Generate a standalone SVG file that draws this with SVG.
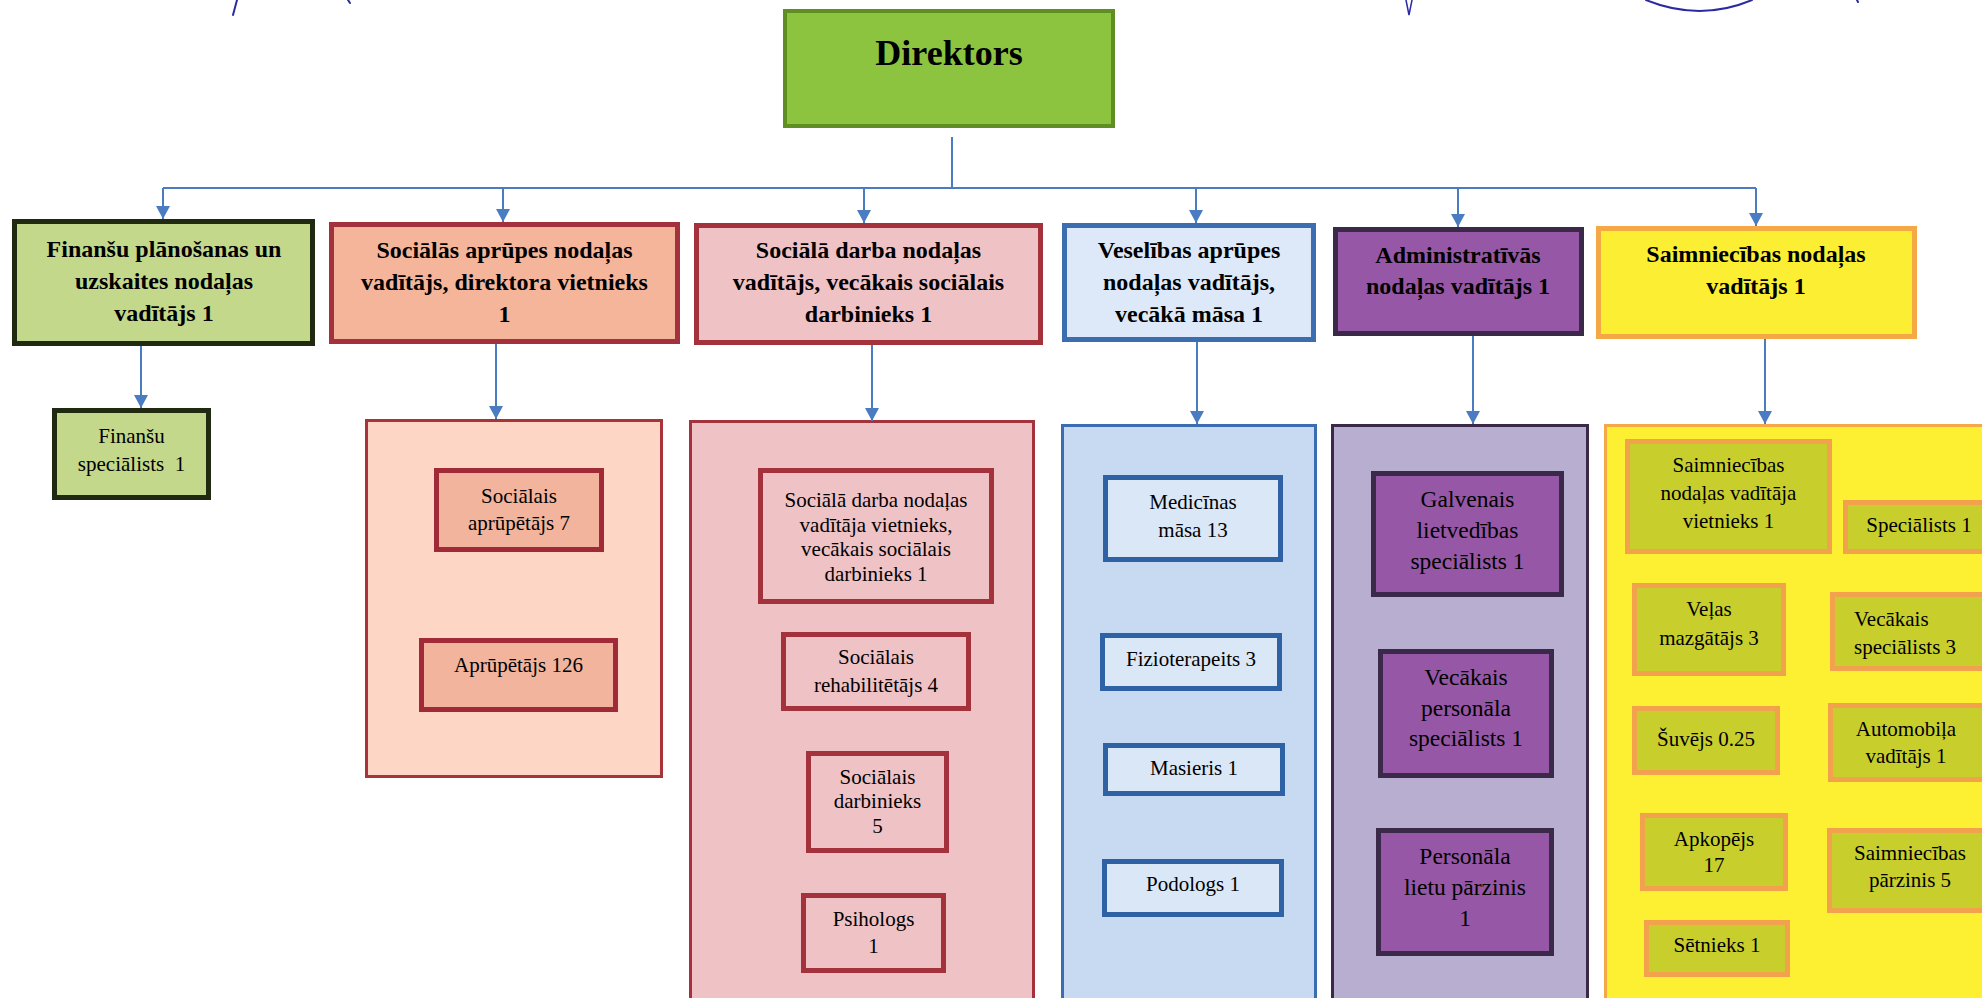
<svg xmlns="http://www.w3.org/2000/svg" width="1982" height="998" viewBox="0 0 1982 998">
<defs>
<marker id="arr" viewBox="0 -7 13 14" refX="13" refY="0" markerWidth="13" markerHeight="14" markerUnits="userSpaceOnUse" orient="auto">
<path d="M0,-7 L13,0 L0,7 z" fill="#4a7cc2"/>
</marker>
<style>
text{font-family:"Liberation Serif","Times New Roman",serif;fill:#000;text-anchor:middle}
.h{font-weight:bold;font-size:24px}
.s{font-size:21px}
.a{font-size:23.5px}
.conn{stroke:#4a7cc2;stroke-width:2;fill:none}
.arw{marker-end:url(#arr)}
.b5{stroke-width:5}
.b3{stroke-width:3}
.fin{fill:#c4d88b;stroke:#1f2a10}
.soc{fill:#f5b59b;stroke:#a3323c}
.socc{fill:#fdd6c6;stroke:#a8343a}
.socs{fill:#f2b49c;stroke:#a02a38}
.dar{fill:#efc2c5;stroke:#a3323c}
.vel{fill:#dde9f8;stroke:#3b6db0}
.velc{fill:#c7daf2;stroke:#3b6db0}
.vels{fill:#dae7f7;stroke:#2f62a4}
.adm{fill:#9658a6;stroke:#3a2948}
.admc{fill:#b8aecf;stroke:#3a2948}
.sai{fill:#fcee33;stroke:#f4a946}
.saic{fill:#fdf033;stroke:#f4a946}
.sais{fill:#c8cf2d;stroke:#f2a24c}
.pen{stroke:#2b2aa0;stroke-width:2;fill:none;stroke-linecap:round}
</style>
</defs>
<rect width="1982" height="998" fill="#ffffff"/>

<g id="scribbles">
<path class="pen" d="M237,0 L233,15"/>
<path class="pen" d="M348,0 L350,3"/>
<path class="pen" style="stroke-width:1.5" d="M1406,0 L1409,15 L1412,0"/>
<path class="pen" d="M1646,0 Q1700,22 1752,0"/>
<path class="pen" d="M1857,0 L1858,2"/>
</g>

<g id="containers">
<rect id="c-soc" class="socc b3" x="366.5" y="420.5" width="295" height="356"/>
<rect id="c-dar" class="dar b3" x="690.5" y="421.5" width="343" height="600"/>
<rect id="c-vel" class="velc b3" x="1062.5" y="425.5" width="253" height="600"/>
<rect id="c-adm" class="admc b3" x="1332.5" y="425.5" width="255" height="600"/>
<rect id="c-sai" class="saic b3" x="1605.5" y="425.5" width="400" height="600"/>
</g>

<g id="connectors">
<path class="conn" d="M952,137 V188"/>
<path class="conn" d="M163,188 H1756"/>
<path class="conn arw" d="M163,188 V219"/>
<path class="conn arw" d="M503,188 V222"/>
<path class="conn arw" d="M864,188 V223"/>
<path class="conn arw" d="M1196,188 V223"/>
<path class="conn arw" d="M1458,188 V227"/>
<path class="conn arw" d="M1756,188 V226"/>
<path class="conn arw" d="M141,346 V408"/>
<path class="conn arw" d="M496,344 V419"/>
<path class="conn arw" d="M872,345 V421"/>
<path class="conn arw" d="M1197,342 V424"/>
<path class="conn arw" d="M1473,336 V424"/>
<path class="conn arw" d="M1765,339 V424"/>
</g>

<g id="direktors">
<rect x="785" y="11" width="328" height="115" fill="#8cc43f" stroke="#5f8f22" stroke-width="4"/>
<text x="949" y="65" style="font-weight:bold;font-size:36px">Direktors</text>
</g>

<g id="finansu-vad">
<rect class="fin b5" x="14.5" y="221.5" width="298" height="122"/>
<text class="h" x="164"><tspan x="164" y="257">Finanšu plānošanas un</tspan><tspan x="164" y="289">uzskaites nodaļas</tspan><tspan x="164" y="321">vadītājs 1</tspan></text>
</g>
<g id="soc-aprupes-vad">
<rect class="soc b5" x="331.5" y="224.5" width="346" height="117"/>
<text class="h" x="504.5"><tspan x="504.5" y="258">Sociālās aprūpes nodaļas</tspan><tspan x="504.5" y="290">vadītājs, direktora vietnieks</tspan><tspan x="504.5" y="322">1</tspan></text>
</g>
<g id="soc-darba-vad">
<rect class="dar b5" x="696.5" y="225.5" width="344" height="117"/>
<text class="h" x="868.5"><tspan x="868.5" y="258">Sociālā darba nodaļas</tspan><tspan x="868.5" y="290">vadītājs, vecākais sociālais</tspan><tspan x="868.5" y="322">darbinieks 1</tspan></text>
</g>
<g id="veselibas-vad">
<rect class="vel b5" x="1064.5" y="225.5" width="249" height="114"/>
<text class="h" x="1189"><tspan x="1189" y="258">Veselības aprūpes</tspan><tspan x="1189" y="290">nodaļas vadītājs,</tspan><tspan x="1189" y="322">vecākā māsa 1</tspan></text>
</g>
<g id="admin-vad">
<rect class="adm b5" x="1335.5" y="229.5" width="246" height="104"/>
<text class="h" x="1458"><tspan x="1458" y="263">Administratīvās</tspan><tspan x="1458" y="294">nodaļas vadītājs 1</tspan></text>
</g>
<g id="saimn-vad">
<rect class="sai b5" x="1598.5" y="228.5" width="316" height="108"/>
<text class="h" x="1756"><tspan x="1756" y="262">Saimniecības nodaļas</tspan><tspan x="1756" y="294">vadītājs 1</tspan></text>
</g>

<g id="finansu-spec">
<rect class="fin b5" x="54.5" y="410.5" width="154" height="87"/>
<text class="s" x="131.5" xml:space="preserve"><tspan x="131.5" y="443">Finanšu</tspan><tspan x="131.5" y="471">speciālists  1</tspan></text>
</g>

<g id="soc-aprupetajs">
<rect class="socs b5" x="436.5" y="470.5" width="165" height="79"/>
<text class="s"><tspan x="519" y="503">Sociālais</tspan><tspan x="519" y="530">aprūpētājs 7</tspan></text>
</g>
<g id="aprupetajs">
<rect class="socs b5" x="421.5" y="640.5" width="194" height="69"/>
<text class="s" x="518.5" y="672">Aprūpētājs 126</text>
</g>

<g id="soc-darba-vietn">
<rect class="dar b5" x="760.5" y="470.5" width="231" height="131"/>
<text class="s"><tspan x="876" y="507">Sociālā darba nodaļas</tspan><tspan x="876" y="532">vadītāja vietnieks,</tspan><tspan x="876" y="556">vecākais sociālais</tspan><tspan x="876" y="581">darbinieks 1</tspan></text>
</g>
<g id="soc-rehab">
<rect class="dar b5" x="783.5" y="634.5" width="185" height="74"/>
<text class="s"><tspan x="876" y="664">Sociālais</tspan><tspan x="876" y="692">rehabilitētājs 4</tspan></text>
</g>
<g id="soc-darbinieks">
<rect class="dar b5" x="808.5" y="753.5" width="138" height="97"/>
<text class="s"><tspan x="877.5" y="784">Sociālais</tspan><tspan x="877.5" y="808">darbinieks</tspan><tspan x="877.5" y="833">5</tspan></text>
</g>
<g id="psihologs">
<rect class="dar b5" x="803.5" y="895.5" width="140" height="75"/>
<text class="s"><tspan x="873.5" y="926">Psihologs</tspan><tspan x="873.5" y="953">1</tspan></text>
</g>

<g id="med-masa">
<rect class="vels b5" x="1105.5" y="477.5" width="175" height="82"/>
<text class="s"><tspan x="1193" y="509">Medicīnas</tspan><tspan x="1193" y="537">māsa 13</tspan></text>
</g>
<g id="fizioterapeits">
<rect class="vels b5" x="1102.5" y="635.5" width="177" height="53"/>
<text class="s" x="1191" y="666">Fizioterapeits 3</text>
</g>
<g id="masieris">
<rect class="vels b5" x="1105.5" y="745.5" width="177" height="48"/>
<text class="s" x="1194" y="775">Masieris 1</text>
</g>
<g id="podologs">
<rect class="vels b5" x="1104.5" y="861.5" width="177" height="53"/>
<text class="s" x="1193" y="891">Podologs 1</text>
</g>

<g id="galv-lietv">
<rect class="adm b5" x="1373.5" y="473.5" width="188" height="121"/>
<text class="a"><tspan x="1467.5" y="507">Galvenais</tspan><tspan x="1467.5" y="538">lietvedības</tspan><tspan x="1467.5" y="569">speciālists 1</tspan></text>
</g>
<g id="vec-pers">
<rect class="adm b5" x="1380.5" y="651.5" width="171" height="124"/>
<text class="a"><tspan x="1466" y="685">Vecākais</tspan><tspan x="1466" y="716">personāla</tspan><tspan x="1466" y="746">speciālists 1</tspan></text>
</g>
<g id="pers-lietu">
<rect class="adm b5" x="1378.5" y="830.5" width="173" height="123"/>
<text class="a"><tspan x="1465" y="864">Personāla</tspan><tspan x="1465" y="895">lietu pārzinis</tspan><tspan x="1465" y="926">1</tspan></text>
</g>

<g id="saimn-vietn">
<rect class="sais b5" x="1627.5" y="441.5" width="202" height="110"/>
<text class="s"><tspan x="1728.5" y="472">Saimniecības</tspan><tspan x="1728.5" y="500">nodaļas vadītāja</tspan><tspan x="1728.5" y="528">vietnieks 1</tspan></text>
</g>
<g id="specialists">
<rect class="sais b5" x="1845.5" y="502.5" width="150" height="49"/>
<text class="s" x="1919" y="532">Speciālists 1</text>
</g>
<g id="velas">
<rect class="sais b5" x="1634.5" y="585.5" width="149" height="88"/>
<text class="s"><tspan x="1709" y="616">Veļas</tspan><tspan x="1709" y="645">mazgātājs 3</tspan></text>
</g>
<g id="vec-spec">
<rect class="sais b5" x="1832.5" y="594.5" width="170" height="74"/>
<text class="s" style="text-anchor:start"><tspan x="1854" y="626">Vecākais</tspan><tspan x="1854" y="654">speciālists 3</tspan></text>
</g>
<g id="suvejs">
<rect class="sais b5" x="1634.5" y="708.5" width="143" height="64"/>
<text class="s" x="1706" y="746">Šuvējs 0.25</text>
</g>
<g id="auto">
<rect class="sais b5" x="1830.5" y="705.5" width="170" height="74"/>
<text class="s"><tspan x="1906" y="736">Automobiļa</tspan><tspan x="1906" y="763">vadītājs 1</tspan></text>
</g>
<g id="apkopejs">
<rect class="sais b5" x="1642.5" y="815.5" width="143" height="73"/>
<text class="s"><tspan x="1714" y="846">Apkopējs</tspan><tspan x="1714" y="872">17</tspan></text>
</g>
<g id="saimn-parzinis">
<rect class="sais b5" x="1829.5" y="830.5" width="170" height="80"/>
<text class="s"><tspan x="1910" y="860">Saimniecības</tspan><tspan x="1910" y="887">pārzinis 5</tspan></text>
</g>
<g id="setnieks">
<rect class="sais b5" x="1646.5" y="922.5" width="141" height="52"/>
<text class="s" x="1717" y="952">Sētnieks 1</text>
</g>
</svg>
